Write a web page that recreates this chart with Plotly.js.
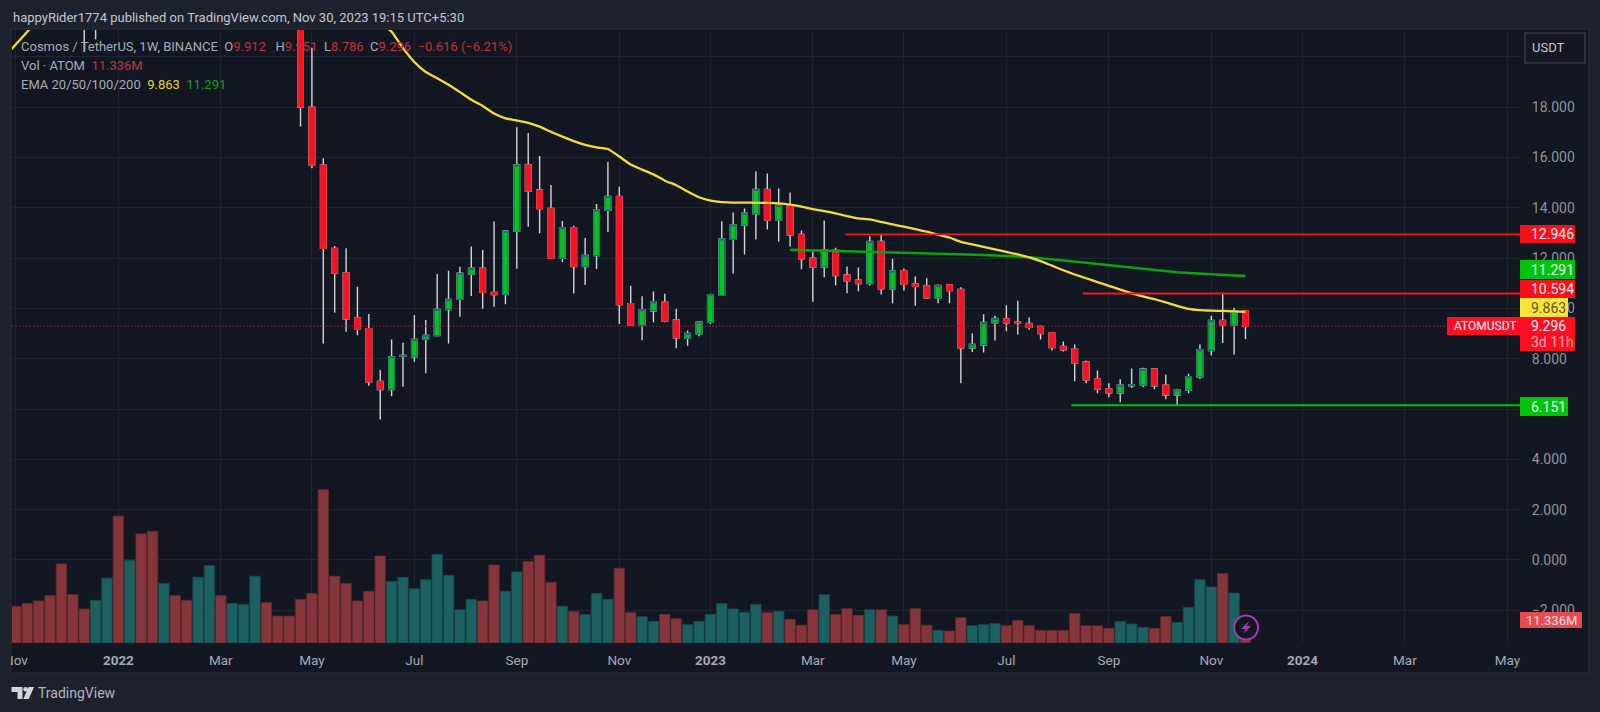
<!DOCTYPE html>
<html><head><meta charset="utf-8">
<script src="https://cdn.plot.ly/plotly-3.0.1.min.js"></script>
<style>html,body{margin:0;padding:0;background:#1e222d;overflow:hidden}#chart{width:1600px;height:712px}</style>
</head><body><div id="chart"></div>
<script>
const weeks = [
"2021-11-01","2021-11-08","2021-11-15","2021-11-22","2021-11-29","2021-12-06","2021-12-13","2021-12-20","2021-12-27",
"2022-01-03","2022-01-10","2022-01-17","2022-01-24","2022-01-31","2022-02-07","2022-02-14","2022-02-21","2022-02-28",
"2022-03-07","2022-03-14","2022-03-21","2022-03-28","2022-04-04","2022-04-11","2022-04-18","2022-04-25","2022-05-02",
"2022-05-09","2022-05-16","2022-05-23","2022-05-30","2022-06-06","2022-06-13","2022-06-20","2022-06-27","2022-07-04",
"2022-07-11","2022-07-18","2022-07-25","2022-08-01","2022-08-08","2022-08-15","2022-08-22","2022-08-29","2022-09-05",
"2022-09-12","2022-09-19","2022-09-26","2022-10-03","2022-10-10","2022-10-17","2022-10-24","2022-10-31","2022-11-07",
"2022-11-14","2022-11-21","2022-11-28","2022-12-05","2022-12-12","2022-12-19","2022-12-26","2023-01-02","2023-01-09",
"2023-01-16","2023-01-23","2023-01-30","2023-02-06","2023-02-13","2023-02-20","2023-02-27","2023-03-06","2023-03-13",
"2023-03-20","2023-03-27","2023-04-03","2023-04-10","2023-04-17","2023-04-24","2023-05-01","2023-05-08","2023-05-15",
"2023-05-22","2023-05-29","2023-06-05","2023-06-12","2023-06-19","2023-06-26","2023-07-03","2023-07-10","2023-07-17",
"2023-07-24","2023-07-31","2023-08-07","2023-08-14","2023-08-21","2023-08-28","2023-09-04","2023-09-11","2023-09-18",
"2023-09-25","2023-10-02","2023-10-09","2023-10-16","2023-10-23","2023-10-30","2023-11-06","2023-11-13","2023-11-20","2023-11-27"];

const open = [33,31.5,30.5,29,27,24.5,23.5,23,25.5,30,28.5,33,29,25,29.5,28,27,31,33,30,31,34,39,36,33,27,
18.0,15.7,12.39,11.42,9.63,9.2,7.1,6.78,8.1,8.08,8.77,8.92,9.96,10.36,11.36,11.6,10.64,10.56,13.07,15.71,14.71,13.98,11.99,13.21,11.67,12.1,13.9,14.45,10.19,9.33,9.91,
10.25,9.54,8.81,8.99,9.45,10.52,12.75,13.31,13.76,14.73,13.51,14.09,12.94,12.0,11.65,12.32,11.33,11.12,10.99,12.66,10.78,11.49,10.98,10.9,10.42,10.94,
10.76,8.43,8.55,9.43,9.59,9.45,9.4,9.28,9.03,8.49,8.39,7.87,7.2,6.8,6.64,6.93,6.95,7.59,6.95,6.56,6.75,7.27,8.33,9.52,9.35,9.912];
const high = [36,34,32.5,31,29.5,26,25,26,31,32,34,36,30,30.5,32,30,32,36,34,32,36,44,40,38,34,28,
20.36,15.97,12.48,12.39,10.86,9.78,7.55,8.77,8.64,9.74,9.54,11.37,11.5,11.66,12.46,12.32,13.46,13.12,17.2,16.98,16.06,14.91,13.48,13.29,12.8,14.15,15.82,14.84,10.9,10.49,10.67,
10.58,9.98,9.12,9.46,10.58,13.46,13.81,13.97,15.45,15.37,14.77,14.61,13.1,12.24,13.5,12.41,11.67,11.63,12.87,12.97,11.98,11.59,11.27,11.2,10.95,10.94,
10.84,9.0,9.77,9.71,10.13,10.31,9.64,9.32,9.05,8.69,8.57,7.93,7.53,7.03,7.19,7.61,7.64,7.6,7.37,6.81,7.4,8.57,9.71,10.6,10.03,9.951];
const low = [30.5,30,28,26.5,22,22.5,20.2,20.7,25,26.5,27.5,27,22,24.5,27,24,26,28,28,28,30,33,33,30,26,17.23,
15.57,8.61,9.83,9.07,8.93,6.93,5.59,6.51,6.89,7.88,7.42,8.92,8.61,9.67,10.5,9.99,10.07,10.17,11.58,13.25,12.99,11.99,11.85,10.59,10.93,11.57,13.04,9.38,9.34,8.74,9.45,
9.45,8.42,8.52,8.89,9.38,10.52,11.39,12.14,12.74,13.14,12.66,12.46,11.56,10.27,11.24,10.91,10.6,10.68,10.91,10.55,10.21,10.71,10.11,10.38,10.21,10.21,
7.03,8.27,8.25,8.73,9.09,8.96,9.16,8.77,8.33,8.29,7.11,7.03,6.63,6.47,6.27,6.84,6.87,6.79,6.39,6.15,6.63,7.2,8.13,8.63,8.17,8.786];
const close = [31.5,30.5,29,27,24.5,23.5,23,25.5,30,28.5,33,29,25,29.5,28,27,31,33,30,31,34,39,36,33,27,18.0,
15.7,12.39,11.4,9.58,9.17,7.08,6.78,8.08,8.13,8.77,8.93,9.96,10.36,11.4,11.6,10.64,10.55,13.07,15.71,14.66,13.97,11.99,13.21,11.67,12.11,13.92,14.45,10.16,9.34,9.95,10.27,
9.5,8.83,9.01,9.46,10.55,12.77,13.32,13.79,14.73,13.51,14.09,12.93,11.97,11.64,12.32,11.31,11.1,10.99,12.66,10.78,11.49,10.96,10.88,10.42,10.91,10.71,
8.43,8.57,9.44,9.6,9.43,9.43,9.25,9.0,8.45,8.36,7.83,7.16,6.79,6.64,6.95,6.97,7.59,6.93,6.56,6.76,7.29,8.36,9.52,9.35,9.89,9.296];

const volumeM = [18.0,19.3,20.6,23.2,38.7,23.7,16.7,20.9,31.8,62.1,40.5,53.4,54.7,29.2,23.2,20.9,32.2,37.9,23.2,19.3,18.9,32.7,19.8,13.2,13.2,21.4,24.3,75.1,32.7,29.2,20.6,25.3,42.6,30.2,32.2,26.6,31.0,43.4,33.1,16.3,21.4,20.6,38.2,25.3,34.8,40.0,42.9,29.7,18.0,15.4,14.0,24.3,21.4,36.6,
15.0,12.9,10.6,14.0,11.9,9.0,10.6,14.0,19.3,16.7,15.0,18.9,15.0,15.5,11.6,8.7,16.3,23.7,14.0,16.8,13.6,16.3,16.3,13.2,9.0,16.8,8.7,6.2,5.9,12.4,8.5,9.0,9.5,8.5,11.1,8.5,6.2,6.2,6.2,14.5,8.5,8.5,7.2,10.6,9.3,7.7,7.2,12.9,10.1,17.5,31.0,27.4,34.1,24.5,11.336];

const emaYellowWeeks = ["2021-10-25"].concat(weeks);
const emaYellow = [20.0,20.5,21.0,21.5,22.0,22.6,23.0,23.3,23.5,23.6,23.9,24.2,24.4,24.7,24.8,24.8,24.9,25.0,25.0,25.1,25.2,25.4,25.5,25.6,25.7,25.6,25.0,24.5,24.0,23.6,23.2,22.8,22.3,21.4,
21.0,20.35,19.8,19.4,19.15,18.89,18.6,18.3,18.05,17.75,17.56,17.47,17.38,17.23,17.02,16.83,16.65,16.5,16.4,16.34,16.04,15.72,15.52,15.33,15.08,
14.9,14.65,14.42,14.29,14.23,14.21,14.21,14.2,14.2,14.18,14.13,14.05,13.95,13.87,13.78,13.67,13.58,13.54,13.44,13.34,13.25,13.15,13.05,12.93,12.82,12.65,
12.55,12.45,12.35,12.25,12.15,12.03,11.88,11.7,11.52,11.35,11.2,11.05,10.9,10.75,10.6,10.48,10.37,10.24,10.1,9.98,9.93,9.91,9.9,9.88,9.863];
const emaGreenWeeks = weeks.slice(68);
const emaGreen = [12.33,12.32,12.31,12.30,12.29,12.28,12.27,12.26,12.25,12.24,12.23,12.22,12.21,12.20,12.19,12.17,12.15,12.13,12.11,12.09,12.07,12.04,12.00,11.96,11.92,11.87,11.82,11.77,11.72,11.67,11.62,11.57,11.52,11.48,11.44,11.41,11.38,11.35,11.33,11.31,11.291];

const levelResist1 = 12.946, levelResist2 = 10.594, levelSupport = 6.151, lastPrice = 9.296;
const resist1Start = "2023-03-26", resist2Start = "2023-08-19", supportStart = "2023-08-12";
const axisEnd = "2024-05-13 19:00";
const axisStart = "2021-10-29 14:24";
const lastPriceEnd = "2024-03-30";

const tickDates = ["2021-11-01","2022-01-03","2022-03-07","2022-05-02","2022-07-04","2022-09-05","2022-11-07","2023-01-02","2023-03-06","2023-05-01","2023-07-03","2023-09-04","2023-11-06","2024-01-01","2024-03-04","2024-05-06"];
const tickLabels = ["Nov","<b>2022</b>","Mar","May","Jul","Sep","Nov","<b>2023</b>","Mar","May","Jul","Sep","Nov","<b>2024</b>","Mar","May"];
const priceTicks = [-2,0,2,4,6,8,10,12,14,16,18,20];

const FONT = 'Roboto, "Noto Sans", sans-serif';
const W = 1600, H = 712, PL = 11.5, PR = 1520, PT = 30, PB = 643;
const fx = x => (x - PL) / (PR - PL);
const fy = y => 1 - (y - PT) / (PB - PT);
const UP = "#00c814", DOWN = "#fb0f23";

function box(x0, x1, y0, y1, fill, line, lw, layer) {
  return {type:"rect", xref:"paper", yref:"paper", x0:fx(x0), x1:fx(x1), y0:fy(y0), y1:fy(y1),
          fillcolor:fill, line:{color:line||fill, width:lw===undefined?0:lw}, layer:layer||"above"};
}
function pathShape(cmds, fill, line, lw) {
  const p = cmds.map(c => typeof c === "string" ? c : fx(c[0]) + "," + fy(c[1])).join(" ");
  return {type:"path", xref:"paper", yref:"paper", path:p, fillcolor:fill, line:{color:line||fill, width:lw||0}, layer:"above"};
}
function txt(x, y, text, size, color, anchor, extra) {
  return Object.assign({xref:"paper", yref:"paper", x:fx(x), y:fy(y), text:text, showarrow:false,
    xanchor:anchor||"left", yanchor:"middle", align:"left", borderpad:0,
    font:{family:FONT, size:size, color:color}}, extra||{});
}

const data = [
  {type:"bar", x:weeks, y:volumeM, yaxis:"y", xaxis:"x",
   marker:{color:close.map((c,i)=> c<open[i] ? "#86363b" : "#1c6160"),
           line:{color:close.map((c,i)=> c<open[i] ? "#5e2a30" : "#17494b"), width:0.8}}, opacity:1},
  {type:"candlestick", x:weeks, open:open, high:high, low:low, close:close, yaxis:"y2", xaxis:"x",
   increasing:{line:{color:"#d4d4d6", width:1.4}, fillcolor:"#d4d4d6"},
   decreasing:{line:{color:"#d4d4d6", width:1.4}, fillcolor:"#d4d4d6"}},
  {type:"candlestick", x:weeks, open:open, close:close,
   high:open.map((o,i)=>Math.max(o,close[i])), low:open.map((o,i)=>Math.min(o,close[i])), yaxis:"y2", xaxis:"x",
   increasing:{line:{color:"#1a7268", width:1.2}, fillcolor:UP},
   decreasing:{line:{color:"#e8202e", width:1.2}, fillcolor:DOWN}},
  {type:"scatter", mode:"lines", x:[axisStart,lastPriceEnd], y:[lastPrice,lastPrice], yaxis:"y2",
   line:{color:"#b4202d", width:1, dash:"1.5px,2px"}},
  {type:"scatter", mode:"lines", x:emaGreenWeeks, y:emaGreen, yaxis:"y2", line:{color:"#0da30e", width:2.5}},
  {type:"scatter", mode:"lines", x:emaYellowWeeks, y:emaYellow, yaxis:"y2", line:{color:"#f2dc3e", width:2.3, shape:"spline", smoothing:0.4}},
  {type:"scatter", mode:"lines", x:[resist1Start,axisEnd], y:[levelResist1,levelResist1], yaxis:"y2", line:{color:"#f2161f", width:1.8}},
  {type:"scatter", mode:"lines", x:[resist2Start,axisEnd], y:[levelResist2,levelResist2], yaxis:"y2", line:{color:"#f2161f", width:1.8}},
  {type:"scatter", mode:"lines", x:[supportStart,axisEnd], y:[levelSupport,levelSupport], yaxis:"y2", line:{color:"#07c107", width:1.8}}
];

const red = "#c0303c", gray = "#a9acb5";
const s = (c,t) => `<span style="color:${c}">${t}</span>`;

const shapes = [
  box(10.5,1589,29,673,"#131722","#2a2e39",1.2,"below"),
  box(0,10.5,644,674,"#1e222d",null,0,"above"),
  box(1520,1575,225,243,"#f5121d"),
  box(1520,1575,260,279,"#00c40c"),
  box(1520,1575,280,298,"#f5121d"),
  box(1520,1568,298,317,"#ffe23a"),
  box(1520,1575,317,351,"#fb0f23"),
  box(1447,1520,317,335,"#fb0f23"),
  box(1520,1568,397,416,"#00c40c"),
  box(1520,1582,612,628,"#e84a52"),
  box(1525,1585,33,63,"#131722","#363a45",1.5),
  {type:"circle", xref:"paper", yref:"paper", x0:fx(1234), x1:fx(1258), y0:fy(615.5), y1:fy(639.5),
   fillcolor:"#131722", line:{color:"#a23cb4", width:2}, layer:"above"},
  pathShape(["M",[1249,621],"L",[1241,629],"L",[1245.5,629],"L",[1243,634],"L",[1251,626],"L",[1246.5,626],"Z"],"#a23cb4"),
  pathShape(["M",[11,687],"L",[22,687],"L",[22,699],"L",[17,699],"L",[17,692],"L",[11,692],"Z"],"#d1d4dc"),
  {type:"circle", xref:"paper", yref:"paper", x0:fx(22.8), x1:fx(27.4), y0:fy(687), y1:fy(691.6), fillcolor:"#d1d4dc", line:{width:0}, layer:"above"},
  pathShape(["M",[28,687],"L",[33.6,687],"L",[28.2,699],"L",[22.8,699],"Z"],"#d1d4dc")
];

const annotations = [
  txt(12,17,"happyRider1774 published on TradingView.com, Nov 30, 2023 19:15 UTC+5:30",13,"#c3c6ce"),
  txt(20,47,"Cosmos / TetherUS, 1W, BINANCE&nbsp;&nbsp;O"+s(red,"9.912")+"&nbsp;&nbsp;&nbsp;H"+s(red,"9.951")+"&nbsp;&nbsp;L"+s(red,"8.786")+"&nbsp;&nbsp;C"+s(red,"9.296")+"&nbsp;&nbsp;"+s(red,"−0.616 (−6.21%)"),13,gray),
  txt(20,66,"Vol · ATOM&nbsp;&nbsp;"+s("#b5393f","11.336M"),13,gray),
  txt(20,85,"EMA 20/50/100/200&nbsp;&nbsp;"+s("#e6d42a","9.863")+"&nbsp;&nbsp;"+s("#0aa30e","11.291"),13,gray),
  txt(1530,234,"12.946",14,"#ffe9ea"),
  txt(1530,269.5,"11.291",14,"#e8ffe8"),
  txt(1530,289,"10.594",14,"#ffe9ea"),
  txt(1530,307.5,"9.863",14,"#5c5726"),
  txt(1530,326,"9.296",14,"#ffe9ea"),
  txt(1530,342,"3d 11h",14,"#ffa9ae"),
  txt(1453,326,"ATOMUSDT",12,"#ffffff"),
  txt(1530,406.5,"6.151",14,"#e8ffe8"),
  txt(1525,620,"11.336M",13,"#ffe3e4"),
  txt(1531,48,"USDT",13,"#c5c8d0"),
  txt(37,693,"TradingView",14,"#b2b5be")
];

const layout = {
  width:W, height:H, autosize:false,
  margin:{l:PL, r:W-PR, t:PT, b:H-PB, pad:0},
  paper_bgcolor:"#1e222d", plot_bgcolor:"rgba(0,0,0,0)",
  showlegend:false, hovermode:false, boxgap:0.3, bargap:0.08,
  font:{family:FONT, color:"#9a9da6", size:13.5},
  xaxis:{type:"date", range:[axisStart,axisEnd], tickmode:"array", tickvals:tickDates, ticktext:tickLabels,
         showgrid:true, gridcolor:"#1f2430", gridwidth:1, zeroline:false, showline:false,
         ticks:"outside", ticklen:5, tickcolor:"rgba(0,0,0,0)", tickangle:0,
         tickfont:{family:FONT, color:"#a6a9b2", size:13.5}, rangeslider:{visible:false}, automargin:false},
  yaxis:{range:[0,300], visible:false, showgrid:false, zeroline:false, fixedrange:true},
  yaxis2:{overlaying:"y", side:"right", range:[-3.30,21.07], tickmode:"array", tickvals:priceTicks,
          tickformat:".3f", showgrid:true, gridcolor:"#222632", gridwidth:1, zeroline:false, showline:false,
          ticks:"outside", ticklen:8, tickcolor:"rgba(0,0,0,0)",
          tickfont:{family:FONT, color:"#8f929b", size:14}, automargin:false},
  shapes:shapes, annotations:annotations
};
Plotly.newPlot("chart", data, layout, {staticPlot:true, displayModeBar:false, responsive:false});
</script></body></html>
